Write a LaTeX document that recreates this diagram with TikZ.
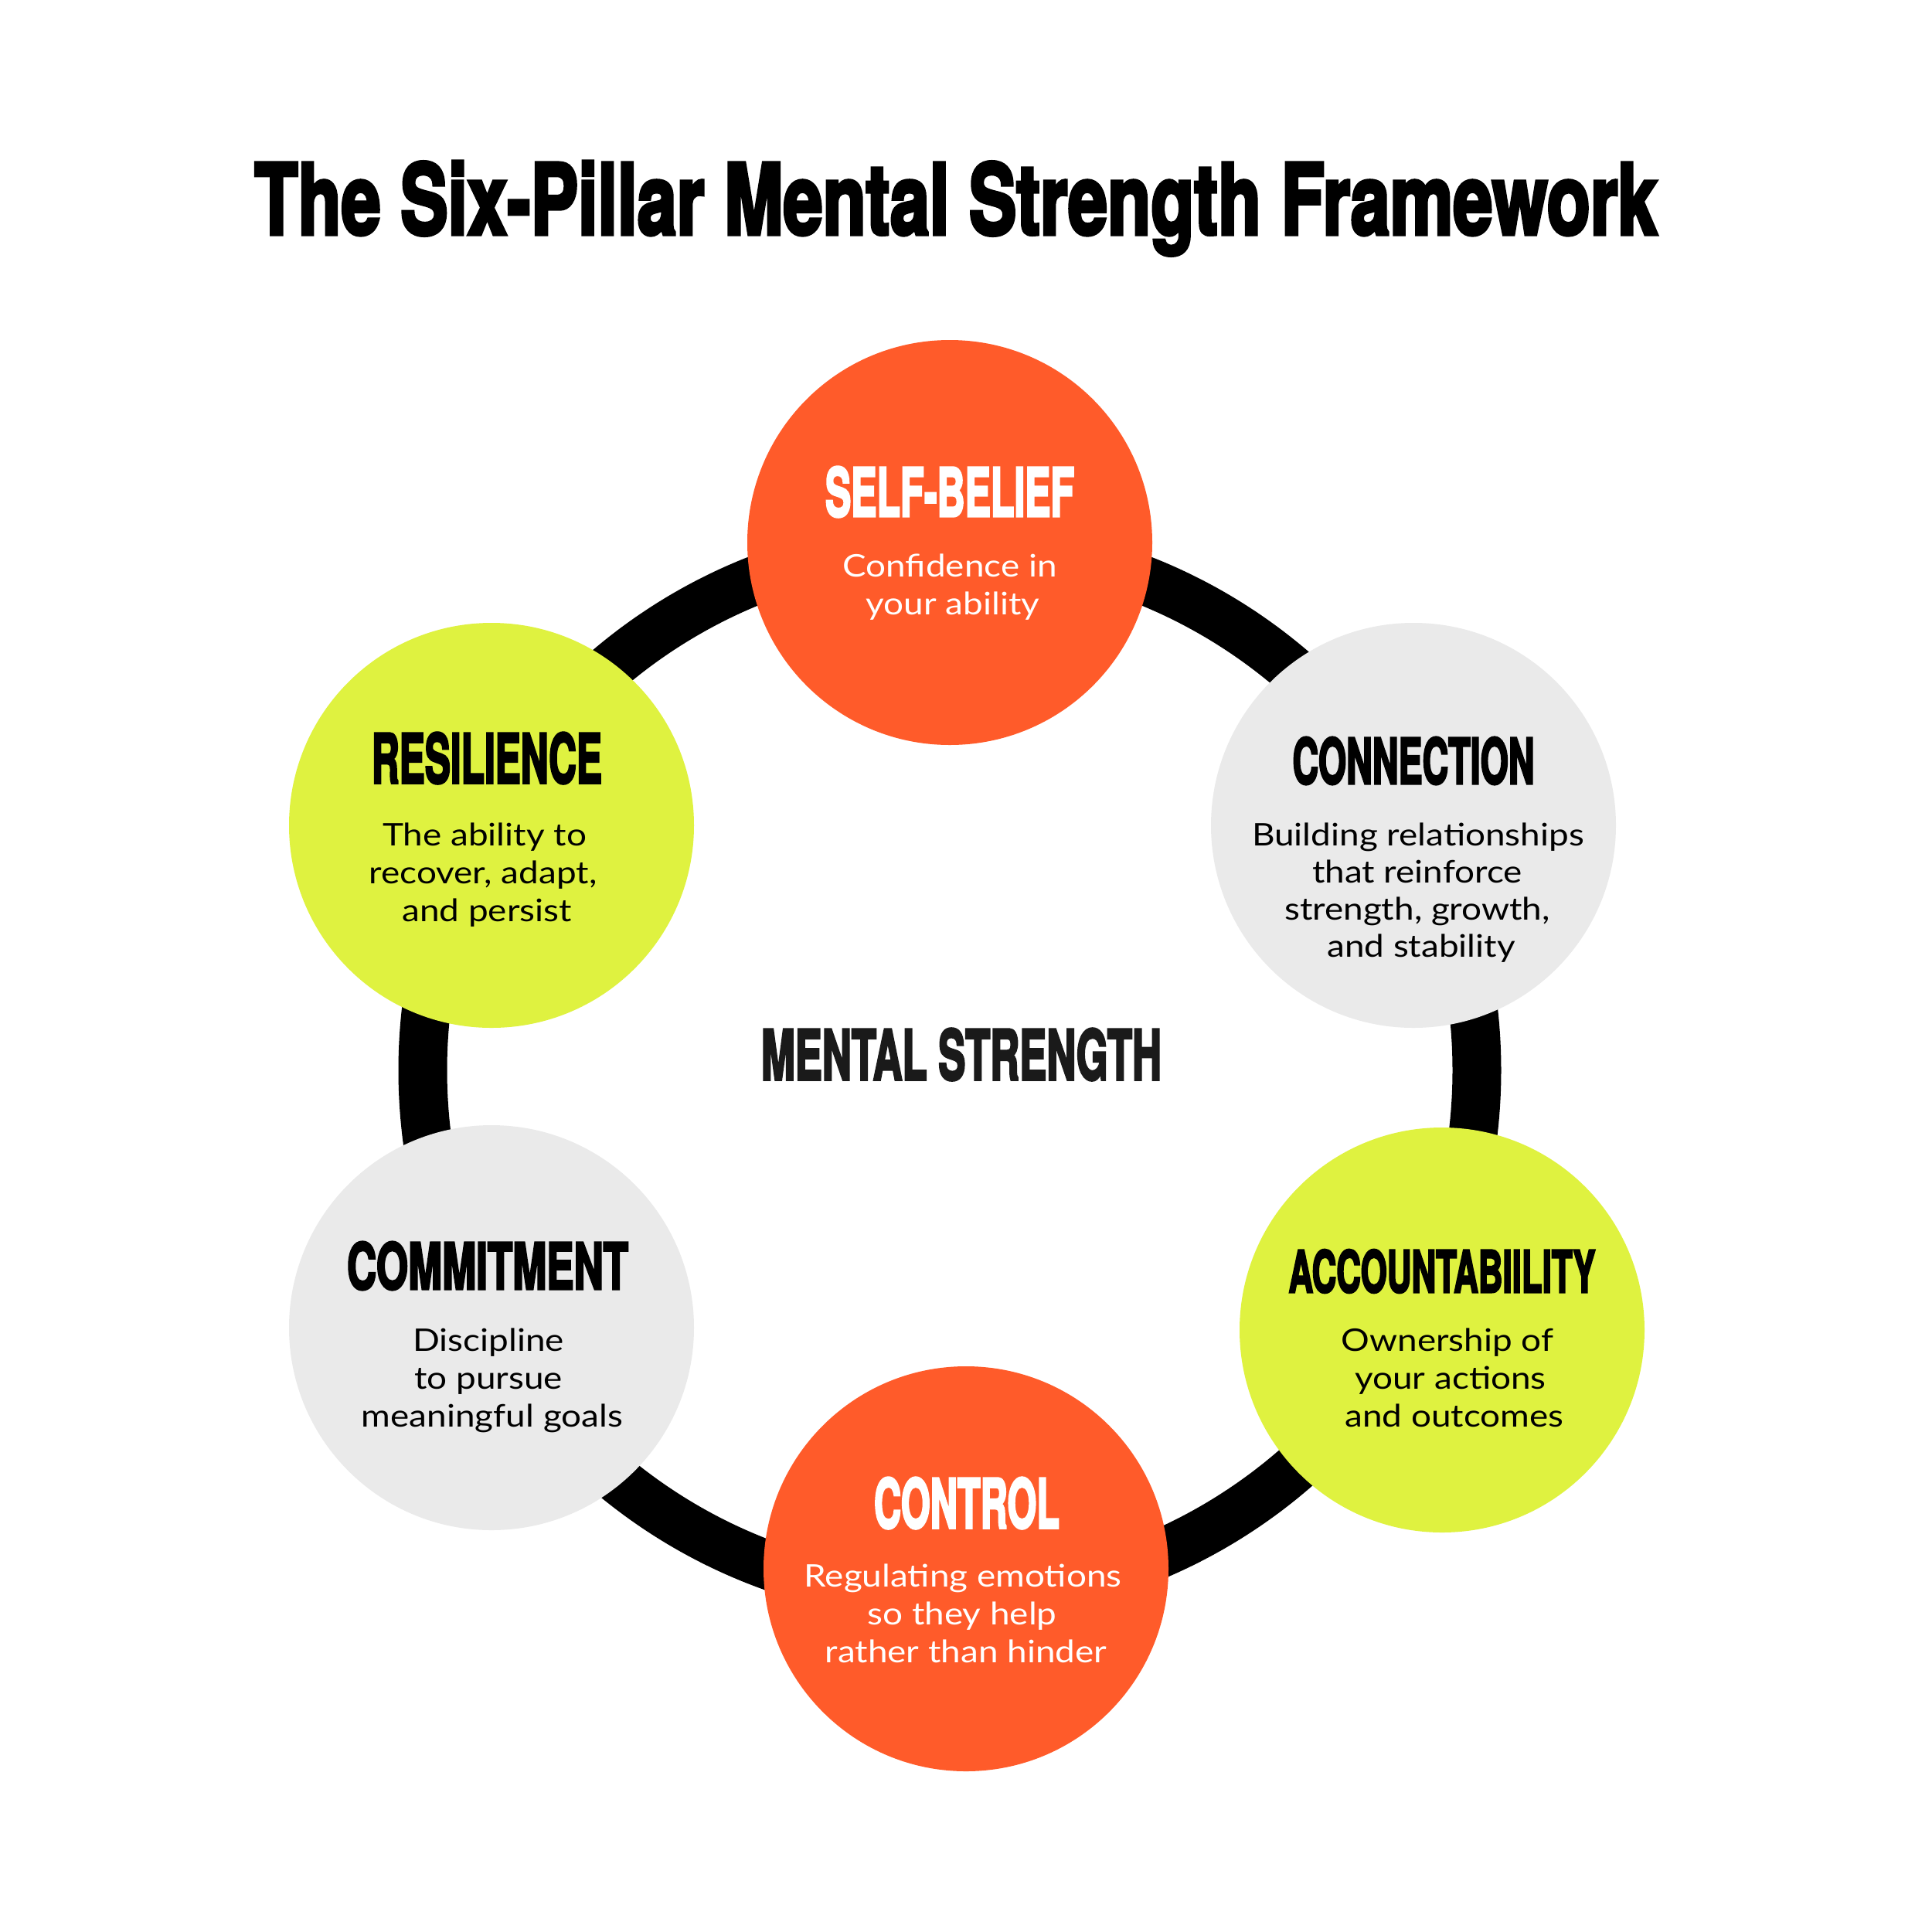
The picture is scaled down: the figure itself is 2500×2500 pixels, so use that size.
\documentclass[tikz,border=0pt]{standalone}
\usepackage{fontspec}
\usepackage{graphicx}
\newfontfamily\headfont[BoldFeatures={FakeBold=4}]{TeX Gyre Heros}
\newfontfamily\bodyfont[FakeStretch=1.14]{Lato}
\definecolor{pOrange}{HTML}{FF5B2A}
\definecolor{pLime}{HTML}{DFF240}
\definecolor{pGrey}{HTML}{EAEAEA}
\definecolor{pInk}{HTML}{1A1A1A}
\newcommand\hdtext[3]{\resizebox{#1}{#2}{\headfont\bfseries #3}}
\begin{document}
\begin{tikzpicture}[x=0.1mm,y=-0.1mm,
  pillar/.style={circle, minimum size=52.4mm, inner sep=0pt, draw=none},
  head/.style={anchor=base, inner sep=0pt},
  body/.style={anchor=base, inner sep=0pt, font=\bodyfont\fontsize{11.45pt}{13pt}\selectfont},
  ringstyle/.style={circle, draw=black, line width=6.3mm, minimum size=136.4mm, inner sep=0pt}
]
\path[use as bounding box, fill=white] (0,0) rectangle (2500,2500);

% title
\node[head, text=black] (title) at (1237,303) {\hdtext{181.5mm}{9.4mm}{The Six-Pillar Mental Strength Framework}};

% ring
\node[ringstyle] (ring) at (1229,1385) {};

% pillars
\node[pillar, fill=pOrange] (selfbelief) at (1229,702) {};
\node[pillar, fill=pGrey] (connection) at (1829,1068) {};
\node[pillar, fill=pLime] (resilience) at (636,1068) {};
\node[pillar, fill=pGrey] (commitment) at (636,1718) {};
\node[pillar, fill=pLime] (accountability) at (1866,1721) {};
\node[pillar, fill=pOrange] (control) at (1250,2030) {};

% centre
\node[head, text=pInk] (centre) at (1244,1397) {\hdtext{51.8mm}{6.6mm}{MENTAL STRENGTH}};

% SELF-BELIEF
\node[head, text=white] (sbH) at (1229,668) {\hdtext{32.2mm}{6.4mm}{SELF-BELIEF}};
\node[body, text=white] (sb1) at (1229,746) {Confidence in};
\node[body, text=white] (sb2) at (1233,795) {your ability};

% CONNECTION
\node[head, text=black] (cnH) at (1829,1014) {\hdtext{31.3mm}{6.0mm}{CONNECTION}};
\node[body, text=black] (cn1) at (1835,1094) {Building relationships};
\node[body, text=black] (cn2) at (1834,1142) {that reinforce};
\node[body, text=black] (cn3) at (1834,1190) {strength, growth,};
\node[body, text=black] (cn4) at (1839,1238) {and stability};

% RESILIENCE
\node[head, text=black] (reH) at (630,1013) {\hdtext{29.8mm}{6.5mm}{RESILIENCE}};
\node[body, text=black] (re1) at (627,1094) {The ability to};
\node[body, text=black] (re2) at (625,1143) {recover, adapt,};
\node[body, text=black] (re3) at (630,1192) {and persist};

% COMMITMENT
\node[head, text=black] (coH) at (631,1668) {\hdtext{36.4mm}{6.1mm}{COMMITMENT}};
\node[body, text=black] (co1) at (632,1748) {Discipline};
\node[body, text=black] (co2) at (632,1797) {to pursue};
\node[body, text=black] (co3) at (637,1846) {meaningful goals};

% ACCOUNTABIILITY
\node[head, text=black] (acH) at (1866,1672) {\hdtext{39.7mm}{5.5mm}{ACCOUNTABIILITY}};
\node[body, text=black] (ac1) at (1873,1748) {Ownership of};
\node[body, text=black] (ac2) at (1877,1797) {your actions};
\node[body, text=black] (ac3) at (1882,1846) {and outcomes};

% CONTROL
\node[head, text=white] (ctH) at (1251,1977) {\hdtext{24.0mm}{6.5mm}{CONTROL}};
\node[body, text=white] (ct1) at (1246,2053) {Regulating emotions};
\node[body, text=white] (ct2) at (1245,2102) {so they help};
\node[body, text=white] (ct3) at (1250,2151) {rather than hinder};
\end{tikzpicture}
\end{document}
